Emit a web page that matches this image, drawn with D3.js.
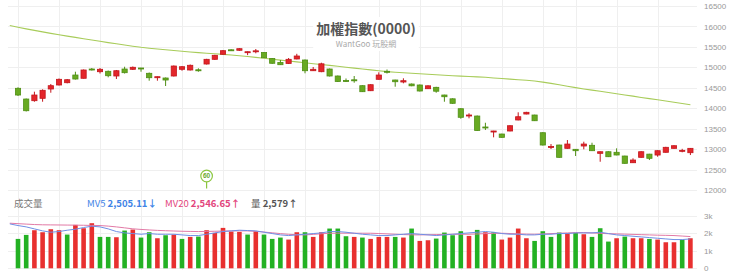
<!DOCTYPE html>
<html>
<head>
<meta charset="utf-8">
<script src="https://cdn.jsdelivr.net/npm/d3@7/dist/d3.min.js"></script>
<style>
body { margin: 0; background: #fff; }
svg { display: block; font-family: "Noto Sans CJK TC", "Noto Sans", sans-serif; }
</style>
</head>
<body>
<div id="chart"></div>
<script>
// K線 (開 高 低 收)
const opens = [14487,14225,14184,14242,14470,14568,14624,14812,14732,14959,14893,14903,14788,14959,14952,14984,14854,14746,14739,14788,14952,14935,14940,15081,15196,15319,15429,15417,15362,15392,15362,15216,15118,15094,15204,15179,14917,14893,14959,14788,14678,14695,14551,14428,14707,14903,14690,14641,14592,14568,14477,14511,14323,14230,13988,13814,13809,13541,13418,13369,13443,13712,13858,13834,13401,13051,13100,13019,12995,13076,13093,12897,12936,12922,12831,12667,12799,12877,12855,12922,13019,12958,12912]
const highs = [14511,14237,14404,14462,14592,14727,14714,14893,14947,14984,14984,14922,14935,15015,15020,14988,14873,14776,14751,15045,15032,15069,14976,15208,15306,15424,15441,15466,15387,15448,15375,15228,15179,15228,15331,15191,15008,15113,14971,14800,14727,14788,14561,14585,14878,14947,14697,14732,14604,14580,14561,14524,14330,14242,13998,13876,13822,13645,13448,13376,13582,13900,13912,13841,13411,13124,13107,13222,13002,13181,13156,12941,12946,13019,12838,12775,12946,12885,12970,13056,13093,13007,13027]
const lows = [14299,13920,14159,14159,14379,14556,14609,14702,14727,14922,14849,14756,14714,14849,14935,14893,14673,14673,14543,14776,14917,14922,14893,15069,15184,15306,15404,15404,15298,15343,15228,15086,15057,15081,15196,14854,14910,14881,14776,14641,14641,14624,14397,14420,14702,14849,14526,14609,14538,14409,14470,14379,14159,14108,13743,13753,13443,13467,13288,13279,13435,13704,13851,13687,13088,13002,12789,13010,12831,12995,12953,12691,12806,12848,12643,12660,12789,12733,12814,12914,13012,12922,12855]
const closes = [14323,13939,14323,14438,14551,14707,14697,14714,14935,14942,14952,14795,14917,14869,15001,14971,14746,14771,14690,15032,15015,15050,14930,15196,15294,15407,15417,15456,15382,15404,15235,15099,15064,15196,15277,14917,14952,15086,14788,14653,14666,14683,14404,14575,14812,14891,14648,14673,14548,14421,14548,14416,14281,14120,13778,13834,13455,13526,13443,13288,13572,13792,13900,13694,13100,13066,12799,13124,12961,13124,12961,12936,12814,12856,12652,12733,12936,12775,12961,13044,13083,12970,13019]
// 均線 (從前一日開始)
const maLine = [16021,15979,15940,15903,15867,15830,15796,15764,15732,15700,15668,15637,15605,15575,15546,15517,15490,15468,15448,15429,15412,15392,15375,15360,15346,15331,15316,15302,15284,15265,15243,15221,15199,15177,15155,15133,15111,15089,15069,15047,15025,15003,14981,14959,14937,14915,14895,14881,14869,14856,14844,14832,14820,14807,14795,14785,14776,14766,14756,14741,14727,14712,14697,14683,14665,14639,14607,14573,14538,14504,14472,14443,14414,14384,14355,14325,14296,14264,14235,14206,14176,14145,14115,14086]

// 成交量
const volumes = [1686,1916,2184,2069,2242,2184,1935,2491,2299,2587,1801,1801,1782,2165,2223,1763,2069,1724,1897,1935,1686,1801,1820,2184,2031,2318,2108,2088,1935,2127,1935,1686,1763,1648,2069,2069,1801,2069,2280,2280,1839,1801,1763,1686,1801,1801,1801,1763,2280,1571,1609,1705,2050,1897,2127,1859,2203,2069,2069,1648,1763,2280,1724,1571,2127,1801,2050,2012,2031,1954,1801,2299,1533,1724,1820,1724,1724,1686,1648,1494,1494,1629,1724]
const volUp = [0,0,1,1,1,1,0,1,1,1,0,0,1,0,1,0,0,1,0,1,0,1,0,1,1,1,1,1,0,1,0,0,0,1,1,0,1,1,0,0,0,1,0,1,1,1,0,1,0,1,1,0,0,0,0,1,0,1,0,1,1,1,1,0,0,0,0,1,0,1,0,0,0,1,0,1,1,0,1,1,1,0,1]
const mv5 = [2548,2452,2376,2261,2146,2069,2108,2184,2242,2338,2414,2376,2261,2108,2031,1993,1954,1993,1954,1954,1954,1916,1878,1878,1954,2031,2108,2146,2184,2165,2146,2069,1993,1916,1878,1916,1954,1993,2031,2108,2108,2069,2012,1954,1916,1878,1878,1916,1954,1993,1954,1916,1878,1916,1954,1993,2031,2069,2108,2069,1993,1954,1954,1916,1916,1954,1954,1993,1993,2031,2031,2031,2069,1993,1916,1878,1839,1801,1763,1724,1686,1648,1648,1686]
const mv20 = [2587,2560,2535,2510,2495,2490,2485,2480,2475,2468,2460,2452,2420,2375,2320,2265,2230,2200,2175,2155,2140,2125,2115,2108,2115,2125,2135,2142,2146,2146,2120,2080,2035,1990,1950,1925,1916,1945,1980,2012,2015,2015,2013,2012,2012,1995,1975,1955,1935,1920,1916,1925,1935,1945,1950,1952,1954,1970,1990,2005,2012,1995,1975,1960,1954,1970,1990,2010,2030,2045,2050,2030,2005,1985,1974,1960,1945,1930,1915,1900,1890,1878,1850,1820]

// 軸刻度
const priceTicks = [12000,12500,13000,13500,14000,14500,15000,15500,16000,16500]
const volTicks = [0,1000,2000,3000]
const volTickLabels = ["0","1k","2k","3k"]
// 每週第一個交易日
const gridIdx = [0,5,10,15,20,25,30,35,44,49,54,59,64,68,73,78]

drawChart()

function drawChart() {
	const width = 740
	const height = 275
	const svg = d3.select("#chart")
		.append("svg")
		.attr("width", width)
		.attr("height", height)

	const n = closes.length
	const x = d3.scaleLinear().domain([0, n - 1]).range([18, 690.4])
	const yP = d3.scaleLinear().domain([12000, 16500]).range([190, 6])
	const yV = d3.scaleLinear().domain([0, 3000]).range([268.3, 216])
	const left = 8, right = 697

	// 格線
	const grid = svg.append("g").attr("stroke", "#efefef").attr("stroke-width", 1)
	grid.selectAll(".hp")
		.data(priceTicks)
		.join("line")
		.attr("x1", left).attr("x2", right)
		.attr("y1", d => Math.round(yP(d)) + 0.5)
		.attr("y2", d => Math.round(yP(d)) + 0.5)
	grid.selectAll(".hv")
		.data(volTicks)
		.join("line")
		.attr("x1", left).attr("x2", right)
		.attr("y1", d => Math.round(yV(d)) + 0.5)
		.attr("y2", d => Math.round(yV(d)) + 0.5)
	grid.selectAll(".vg")
		.data(gridIdx)
		.join("line")
		.attr("x1", d => Math.round(x(d)) + 0.5)
		.attr("x2", d => Math.round(x(d)) + 0.5)
		.attr("y1", 0).attr("y2", 270)

	// 標題
	const title = svg.append("text")
		.attr("x", 366).attr("y", 34)
		.attr("text-anchor", "middle")
		.style("font-size", "14px")
		.style("font-weight", "bold")
		.style("fill", "#555")
		.text("加權指數(0000)")
	const bb = title.node().getBBox()
	svg.insert("rect", "text")
		.attr("x", bb.x - 3).attr("y", bb.y - 1)
		.attr("width", bb.width + 6).attr("height", bb.height + 14)
		.attr("fill", "#fff")
	svg.append("text")
		.attr("x", 366).attr("y", 47)
		.attr("text-anchor", "middle")
		.style("font-size", "8px")
		.style("fill", "#aaa")
		.text("WantGoo 玩股網")

	// 右側價格軸
	const pAxis = svg.append("g")
		.attr("transform", `translate(${704},0)`)
		.call(d3.axisRight(yP).tickValues(priceTicks).tickSize(0).tickPadding(0).tickFormat(d => d))
	pAxis.select(".domain").remove()
	pAxis.selectAll("text").style("font-size", "8px").attr("fill", "#999")
		.style("font-family", "'Liberation Sans', Arial, sans-serif")

	const vAxis = svg.append("g")
		.attr("transform", `translate(${704},0)`)
		.call(d3.axisRight(yV).tickValues(volTicks).tickSize(0).tickPadding(0)
			.tickFormat((d, i) => volTickLabels[i]))
	vAxis.select(".domain").remove()
	vAxis.selectAll("text").style("font-size", "8px").attr("fill", "#999")
		.style("font-family", "'Liberation Sans', Arial, sans-serif")

	// 均線
	svg.append("path")
		.datum(maLine)
		.attr("fill", "none")
		.attr("stroke", "#a8cc5a")
		.attr("stroke-width", 1.1)
		.attr("d", d3.line().x((d, i) => x(i - 1)).y(d => yP(d)))

	// K棒
	const candles = d3.range(n).map(i => ({ i: i, o: opens[i], h: highs[i], l: lows[i], c: closes[i] }))
	const upFill = "#e3262b", upLine = "#c4161c"
	const dnFill = "#68aa22", dnLine = "#4f8f14"
	const cg = svg.append("g")
		.selectAll("g")
		.data(candles)
		.join("g")
		.attr("transform", d => `translate(${x(d.i)},0)`)
	cg.append("line")
		.attr("x1", 0).attr("x2", 0)
		.attr("y1", d => yP(d.h))
		.attr("y2", d => yP(d.l))
		.attr("stroke", d => d.c >= d.o ? upLine : dnLine)
		.attr("stroke-width", 1)
	cg.append("rect")
		.attr("x", -2.6)
		.attr("width", 5.2)
		.attr("y", d => yP(Math.max(d.o, d.c)))
		.attr("height", d => Math.max(1, Math.abs(yP(d.o) - yP(d.c))))
		.attr("fill", d => d.c >= d.o ? upFill : dnFill)
		.attr("stroke", d => d.c >= d.o ? upLine : dnLine)
		.attr("stroke-width", 0.8)

	// 60日標記
	const mk = svg.append("g").attr("transform", `translate(${x(n - 60)},0)`)
	mk.append("line")
		.attr("x1", 0).attr("x2", 0)
		.attr("y1", 182).attr("y2", 188.5)
		.attr("stroke", "#8cc63f").attr("stroke-width", 1.2)
	mk.append("circle")
		.attr("cx", 0).attr("cy", 176)
		.attr("r", 5.8)
		.attr("fill", "#fff")
		.attr("stroke", "#8cc63f")
		.attr("stroke-width", 1.2)
	mk.append("text")
		.attr("x", 0).attr("y", 178.4)
		.attr("text-anchor", "middle")
		.style("font-size", "6.5px")
		.style("font-weight", "bold")
		.style("fill", "#6aa82a")
		.style("font-family", "'Liberation Sans', Arial, sans-serif")
		.text("60")

	// 成交量圖例
	const lg = svg.append("g").style("font-size", "9.5px")
	lg.append("text").attr("x", 14).attr("y", 207).style("fill", "#777").text("成交量")
	lg.append("text").attr("x", 87).attr("y", 207).style("fill", "#3f83e6")
		.text("MV5 ")
		.append("tspan").style("font-weight", "bold").text("2,505.11↓")
	lg.append("text").attr("x", 165).attr("y", 207).style("fill", "#e2457c")
		.text("MV20 ")
		.append("tspan").style("font-weight", "bold").text("2,546.65↑")
	lg.append("text").attr("x", 251).attr("y", 207).style("fill", "#555")
		.text("量 ")
		.append("tspan").style("font-weight", "bold").text("2,579↑")

	// 量柱
	svg.append("g")
		.selectAll("rect")
		.data(volumes)
		.join("rect")
		.attr("x", (d, i) => x(i) - 2.3)
		.attr("width", 4.6)
		.attr("y", d => yV(d))
		.attr("height", d => yV(0) - yV(d))
		.attr("fill", (d, i) => volUp[i] ? "#e8302f" : "#23b123")

	// 量均線
	const vline = d3.line().x((d, i) => x(i - 1)).y(d => yV(d))
	svg.append("path").datum(mv20)
		.attr("fill", "none").attr("stroke", "#e27aa6").attr("stroke-width", 1)
		.attr("d", vline)
	svg.append("path").datum(mv5)
		.attr("fill", "none").attr("stroke", "#6f8fe6").attr("stroke-width", 1)
		.attr("d", vline)
}
</script>
</body>
</html>
